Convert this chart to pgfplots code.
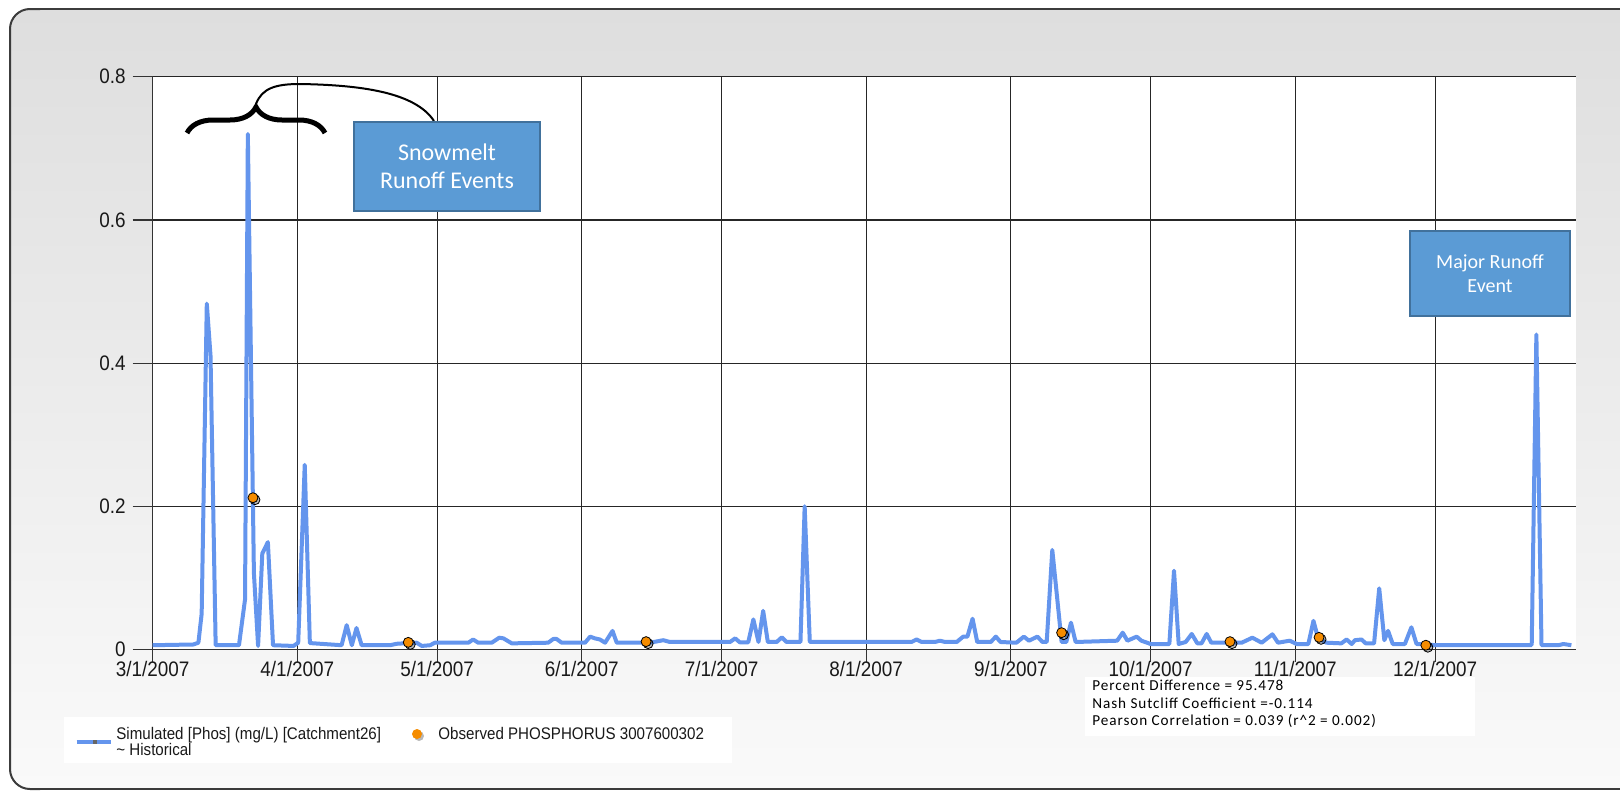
\documentclass[border=0pt]{standalone}
\usepackage{fontspec}
\usepackage{pgfplots}
\pgfplotsset{compat=1.18}
\usepackage{pgfplotstable}
\usetikzlibrary{decorations.pathreplacing}
\newfontfamily\chartfont[FakeStretch=0.9]{Liberation Sans}
\newfontfamily\calfont{Carlito}
\newfontfamily\statfont[LetterSpace=6]{Carlito}
\definecolor{simblue}{RGB}{100,149,237}
\definecolor{obsorange}{RGB}{245,140,0}
\definecolor{boxblue}{RGB}{91,155,213}
\definecolor{boxedge}{RGB}{65,113,156}
\definecolor{framegray}{RGB}{60,60,60}
\definecolor{bgtop}{RGB}{222,222,222}
\definecolor{bgbot}{RGB}{250,250,250}

\pgfplotstableread{
d v
0 0.006
8.7 0.007
9.8 0.0095
10.5 0.05
11.6 0.483
12.4 0.41
13.5 0.006
18.5 0.006
19.8 0.07
20.4 0.72
21.7 0.107
22.6 0.005
23.5 0.134
24.7 0.15
25.8 0.006
30.2 0.005
31.2 0.0095
32.6 0.258
33.7 0.009
40.5 0.006
41.6 0.034
42.7 0.006
43.7 0.030
44.8 0.006
50.9 0.006
52.3 0.008
54.8 0.009
56.6 0.0095
57.7 0.005
59.5 0.006
60.5 0.0095
67.7 0.0095
68.7 0.014
69.8 0.0095
72.7 0.0095
74.3 0.0165
75.2 0.0156
77.0 0.0086
84.8 0.0095
85.9 0.0147
86.6 0.0147
87.7 0.0095
92.7 0.0095
93.8 0.018
94.8 0.0156
95.9 0.014
97.0 0.0095
98.6 0.026
99.5 0.0095
106.6 0.0095
109.5 0.013
110.9 0.0105
123.8 0.0105
124.9 0.0156
125.9 0.010
127.7 0.010
128.8 0.042
129.9 0.0105
130.9 0.054
131.9 0.0105
133.8 0.0105
134.9 0.017
135.9 0.0105
138.9 0.0105
139.8 0.2
140.9 0.0105
162.7 0.0105
163.8 0.014
164.9 0.0105
167.7 0.0105
168.8 0.0123
169.9 0.0105
172.4 0.0105
173.8 0.018
174.7 0.018
175.8 0.043
176.8 0.0105
179.7 0.0105
180.8 0.018
181.8 0.0105
185.2 0.0095
186.8 0.018
187.9 0.0123
189.7 0.018
190.8 0.0105
191.7 0.0105
192.9 0.139
194.9 0.0105
195.9 0.0105
196.9 0.0375
197.9 0.0105
206.8 0.0123
208.0 0.0235
209.0 0.0123
211.0 0.018
212.0 0.0123
214.0 0.0077
218.0 0.0077
219.0 0.11
220.0 0.0077
221.5 0.0105
222.8 0.0217
224.0 0.0086
224.9 0.0086
226.0 0.0217
227.0 0.0095
233.5 0.0095
235.8 0.0165
237.8 0.0095
240.1 0.0212
241.3 0.0095
243.8 0.0123
245.3 0.0077
247.8 0.0077
248.9 0.04
249.9 0.0156
251.7 0.0095
254.9 0.0086
256.0 0.014
257.1 0.0077
257.8 0.013
259.2 0.014
260.1 0.0086
261.9 0.0086
263.0 0.0854
264.1 0.013
264.9 0.026
265.9 0.0077
268.5 0.0077
269.9 0.031
271.0 0.0077
272.4 0.0077
274.6 0.0063
295.7 0.0063
296.7 0.44
297.8 0.0063
301.4 0.006
302.5 0.0077
304.2 0.006
}\simdata

\pgfplotstableread{
d v
21.5 0.212
54.8 0.010
105.8 0.011
194.9 0.0235
231.0 0.011
250.1 0.017
273.0 0.006
}\obsdata

\begin{document}
\begin{tikzpicture}[x=0.5pt,y=-0.5pt]
\useasboundingbox (0,0) rectangle (1620,793);
\shade[top color=bgtop, bottom color=bgbot] (30,9) rectangle (1620,789);
\shade[top color=bgtop, bottom color=bgbot, rounded corners=10pt] (60,9) -- (10,9) -- (10,789) -- (60,789) -- cycle;
\draw[framegray, line width=1pt] (30,9) -- (1620,9);
\draw[framegray, line width=1pt] (30,789) -- (1620,789);
\draw[framegray, line width=1pt, rounded corners=10pt] (40,9) -- (10,9) -- (10,789) -- (40,789);

\begin{axis}[
  at={(76.35pt,-324.75pt)}, anchor=south west,
  scale only axis, width=711.65pt, height=286.4pt,
  xmin=0, xmax=305.2, ymin=0, ymax=0.8,
  axis x line*=bottom, axis y line*=left,
  axis line style={draw=black!80, line width=0.75pt},
  axis background/.style={fill=white},
  grid=major,
  major grid style={draw=black!85, line width=0.6pt},
  xtick={0,31,61,92,122,153,184,214,245,275},
  xticklabels={3/1/2007,4/1/2007,5/1/2007,6/1/2007,7/1/2007,8/1/2007,9/1/2007,10/1/2007,11/1/2007,12/1/2007},
  ytick={0,0.2,0.4,0.6,0.8},
  yticklabels={0,0.2,0.4,0.6,0.8},
  tick align=outside,
  major tick length=10pt,
  xtick style={/pgfplots/major tick length=6pt},
  tick style={draw=black!80, line width=0.6pt},
  ticklabel style={font=\chartfont\fontsize{10.5}{12}\selectfont, text=black!90},
  xticklabel style={yshift=7.5pt},
  clip=false,
]
\addplot[simblue, line width=2pt, line join=round, mark=none] table[x=d,y=v]{\simdata};
\addplot[only marks, mark=*, mark size=2.5pt, mark options={draw=none, fill=black, fill opacity=0.28, xshift=1pt, yshift=-1pt}] table[x=d,y=v]{\obsdata};
\addplot[only marks, mark=*, mark size=2.5pt, mark options={draw=none, fill=obsorange}] table[x=d,y=v]{\obsdata};
\end{axis}

% brace and connector
\draw[line width=2.5pt, decorate, decoration={brace, amplitude=13pt, aspect=0.5}] (187,133) -- (325,133);
\draw[line width=1pt] (256,104) .. controls (262,88) and (276,84) .. (300,84) .. controls (360,85) and (415,92) .. (434,121);

% annotation boxes
\node[draw=boxedge, line width=1pt, fill=boxblue, minimum width=93pt, minimum height=44.5pt, inner sep=0pt,
      text=white, align=center, font=\calfont\fontsize{12}{14}\selectfont] at (447,166.5) {Snowmelt\\Runoff Events};
\node[draw=boxedge, line width=1pt, fill=boxblue, minimum width=80pt, minimum height=42.5pt, inner sep=0pt,
      text=white, align=center, font=\calfont\fontsize{10}{11.7}\selectfont] at (1490,273.5) {Major Runoff\\Event};

% statistics box
\fill[white] (1085,677) rectangle (1475,736);
\node[anchor=base west, inner sep=0pt, font=\statfont\fontsize{7.6}{9}\selectfont] at (1092,690.7) {Percent Difference = 95.478};
\node[anchor=base west, inner sep=0pt, font=\statfont\fontsize{7.6}{9}\selectfont] at (1092,708.2) {Nash Sutcliff Coefficient =-0.114};
\node[anchor=base west, inner sep=0pt, font=\statfont\fontsize{7.6}{9}\selectfont] at (1092,725.7) {Pearson Correlation = 0.039 (r\textasciicircum 2 = 0.002)};

% legend
\fill[white] (64,717) rectangle (732,763);
\draw[simblue, line width=2pt] (76.5,741.7) -- (111,741.7);
\fill[black!60] (92.5,740) rectangle (96.5,743.5);
\node[anchor=base west, inner sep=0pt, font=\chartfont\fontsize{8.4}{10}\selectfont, text=black!90] at (116,739.5) {Simulated [Phos] (mg/L) [Catchment26]};
\node[anchor=base west, inner sep=0pt, font=\chartfont\fontsize{8.4}{10}\selectfont, text=black!90] at (116,755) {\textasciitilde\ Historical};
\fill[black, opacity=0.28] (419,736) circle[radius=2.5pt];
\fill[obsorange] (417,734) circle[radius=2.5pt];
\node[anchor=base west, inner sep=0pt, font=\chartfont\fontsize{8.4}{10}\selectfont, text=black!90] at (438,739.5) {Observed PHOSPHORUS 3007600302};
\end{tikzpicture}
\end{document}
